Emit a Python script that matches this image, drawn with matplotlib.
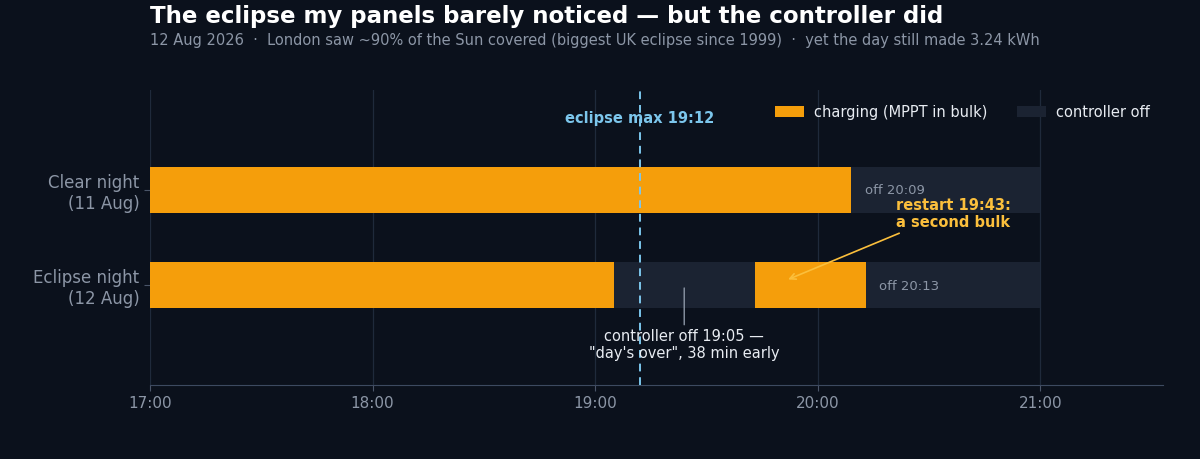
import matplotlib
matplotlib.use("Agg")
import matplotlib.pyplot as plt
from matplotlib.patches import Patch

# ---- data ----
rows = ["Clear night\n(11 Aug)", "Eclipse night\n(12 Aug)"]
window = ("17:00", "21:00")
charging = [
    [("17:00", "20:09")],
    [("17:00", "19:05"), ("19:43", "20:13")],
]
off_labels = ["off 20:09", "off 20:13"]
eclipse_max = "19:12"
hour_ticks = ["17:00", "18:00", "19:00", "20:00", "21:00"]

BG = "#0b111c"
OFF = "#1b2332"
ORANGE = "#f59e0b"
GOLD = "#fbbf3c"
BLUE = "#7cc6ec"
GREY = "#8c96a6"
WHITE = "#e8ecf2"


def h(t):
    hh, mm = t.split(":")
    return int(hh) + int(mm) / 60


fig = plt.figure(figsize=(12, 4.59), dpi=100, facecolor=BG)
ax = fig.add_axes([0.125, 0.161, 0.844, 0.643], facecolor=BG)

ypos = [1, 0]
bh = 0.48
for y, segs in zip(ypos, charging):
    ax.barh(y, h(window[1]) - h(window[0]), left=h(window[0]), height=bh,
            color=OFF, zorder=1)
    for a, b in segs:
        ax.barh(y, h(b) - h(a), left=h(a), height=bh, color=ORANGE, zorder=2)

for y, segs, lab in zip(ypos, charging, off_labels):
    end = h(segs[-1][1])
    ax.text(end + 0.06, y - 0.01, lab, color=GREY, fontsize=9.5, va="center", zorder=4)

xm = h(eclipse_max)
ax.axvline(xm, color=BLUE, ls=(0, (4, 3)), lw=1.4, zorder=3)
ax.text(xm, 1.75, f"eclipse max {eclipse_max}", color=BLUE, fontsize=10.5,
        fontweight="bold", ha="center", va="center", zorder=4)

ax.annotate("restart 19:43:\na second bulk", xy=(h("19:43") + 0.15, 0.06),
            xytext=(h("20:21"), 0.75), color=GOLD, fontsize=10.5, fontweight="bold",
            ha="left", va="center", zorder=5,
            arrowprops=dict(arrowstyle="->", color=GOLD, lw=1.2,
                            relpos=(0.1, 0.0), shrinkA=1, shrinkB=0))

ax.annotate("controller off 19:05 \u2014\n\"day's over\", 38 min early",
            xy=(h("19:24"), -0.03), xytext=(h("19:24"), -0.63),
            color=WHITE, fontsize=10.5, ha="center", va="center", zorder=5,
            arrowprops=dict(arrowstyle="-", color=GREY, lw=1.0,
                            shrinkA=1, shrinkB=0))

ax.set_xlim(h("17:00"), h("21:33"))
ax.set_ylim(-1.05, 2.05)
ax.set_xticks([h(t) for t in hour_ticks])
ax.set_xticklabels(hour_ticks)
ax.set_yticks(ypos)
ax.set_yticklabels(rows)
ax.tick_params(axis="x", colors="#4a5568", labelcolor=GREY, labelsize=11,
               length=4)
ax.tick_params(axis="y", colors="#4a5568", labelcolor=GREY, labelsize=12,
               length=4)
ax.grid(axis="x", color="#1f2a3b", lw=0.9, zorder=0)
ax.set_axisbelow(True)
for s in ("top", "right", "left"):
    ax.spines[s].set_visible(False)
ax.spines["bottom"].set_color("#3d4a60")

handles = [Patch(facecolor=ORANGE, label="charging (MPPT in bulk)"),
           Patch(facecolor=OFF, label="controller off")]
leg = ax.legend(handles=handles, loc="upper right", ncol=2, frameon=False,
                fontsize=10.5, labelcolor=WHITE, bbox_to_anchor=(1.0, 0.995),
                columnspacing=2.0, handlelength=2.0, handletextpad=0.7)

fig.text(0.125, 0.964, "The eclipse my panels barely noticed \u2014 but the controller did",
         color="white", fontsize=16.5, fontweight="bold", ha="left", va="center")
fig.text(0.125, 0.912,
         "12 Aug 2026  \u00b7  London saw ~90% of the Sun covered (biggest UK eclipse since 1999)"
         "  \u00b7  yet the day still made 3.24 kWh",
         color=GREY, fontsize=10.5, ha="left", va="center")

fig.savefig("out.png", dpi=100, facecolor=BG)
